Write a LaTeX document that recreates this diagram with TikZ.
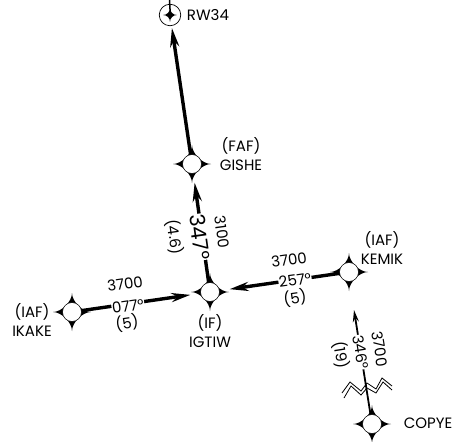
\documentclass[tikz,border=0pt]{standalone}
\usepackage{fontspec}
\setmainfont{Poppins}
\usepackage{tikz}
\usetikzlibrary{arrows.meta, positioning}

% one fix symbol: star below, white circle on top
\newcommand{\fixmark}[2]{
	\fill (#2) ++(19,0) .. controls +(-8.5,0) and +(0,-8.5) .. ++(-19,19)
		.. controls +(0,-8.5) and +(8.5,0) .. ++(-19,-19)
		.. controls +(8.5,0) and +(0,8.5) .. ++(19,-19)
		.. controls +(0,8.5) and +(-8.5,0) .. cycle;
	\node[fixpt] (#1) at (#2) {};
}

\begin{document}
\begin{tikzpicture}[
	x=1pt, y=-1pt,
	every node/.style={font=\fontsize{15}{18.5}\selectfont},
	fixpt/.style={draw, circle, fill=white, minimum size=19pt, inner sep=0pt, line width=0.5pt},
	fixname/.style={align=center, inner sep=0pt},
	course/.style={fill=white, inner sep=0.5pt},
	route/.style={-{Stealth[length=19pt, width=9pt]}, line width=3.4pt},
	thinroute/.style={-{Stealth[length=12pt, width=6pt]}, line width=1.8pt}
	]
	\useasboundingbox (0,0) rectangle (454,441);
	
	% Fixes
	\fixmark{gishe}{192,164}
	\fixmark{igtiw}{210,292}
	\fixmark{ikake}{72,312}
	\fixmark{kemik}{349,272}
	\fixmark{copye}{372,424}
	
	% Runway fix
	\node[draw, circle, minimum size=21.5pt, inner sep=0pt, line width=0.7pt] (rw34) at (170,15) {};
	\fill (177,15) .. controls (173,15) and (170,18) .. (170,22)
		.. controls (170,18) and (167,15) .. (163,15)
		.. controls (167,15) and (170,12) .. (170,8)
		.. controls (170,12) and (173,15) .. cycle;
	\coordinate (rwtop) at (169.5,0);
	\coordinate (rwend) at (170.5,18);
	\draw[line width=1.5pt] (rwtop) -- (rwend);
	
	% Connections
	\draw[route, shorten >=2pt] (gishe) -- (rw34);
	\draw[route, shorten >=9pt] (igtiw) -- (gishe);
	\draw[route, shorten >=10pt] (ikake) -- (igtiw);
	\draw[route, shorten >=10pt] (kemik) -- (igtiw);
	\coordinate (copyetip) at (354,310);
	\draw[thinroute] (copye) -- (copyetip);
	
	% Break in the last leg
	\draw[line width=0.8pt] (342,393) -- (350,382) -- (361,391) -- (367,383) -- (376,389) -- (382,378) -- (392,386);
	\draw[line width=0.8pt] (344,398) -- (351,386) -- (361,395) -- (367,388) -- (376,393) -- (383,382) -- (392,390);
	
	% Course labels
	\node[course, rotate=-82, font=\fontsize{21}{23}\selectfont] (crs347) at (200,237) {347°};
	\node[rotate=-82] (alt3100) at (222,232) {3100};
	\node[rotate=-82] (dist46) at (175,237) {(4.6)};
	
	\node[course, rotate=8] (crs077) at (128,306) {077°};
	\node[rotate=8] (alt077) at (125,284) {3700};
	\node[rotate=8] (dist077) at (127,323) {(5)};
	
	\node[course, rotate=8] (crs257) at (295,280) {257°};
	\node[rotate=8] (alt257) at (289,260) {3700};
	\node[rotate=8] (dist257) at (295,298) {(5)};
	
	\node[course, rotate=-81] (crs346) at (361,352) {346°};
	\node[rotate=-81] (alt346) at (380,349) {3700};
	\node[rotate=-81] (dist346) at (341,355) {(19)};
	
	% Fix names
	\node[fixname] (rwname) at (208,15) {RW34};
	\node[fixname] (gishename) at (241,154) {(FAF)\\GISHE};
	\node[fixname] (igtiwname) at (210,331) {(IF)\\IGTIW};
	\node[fixname] (ikakename) at (32,320) {(IAF)\\IKAKE};
	\node[fixname] (kemikname) at (382,248) {(IAF)\\KEMIK};
	\node[fixname] (copyename) at (428,423) {COPYE};
	
\end{tikzpicture}
\end{document}
